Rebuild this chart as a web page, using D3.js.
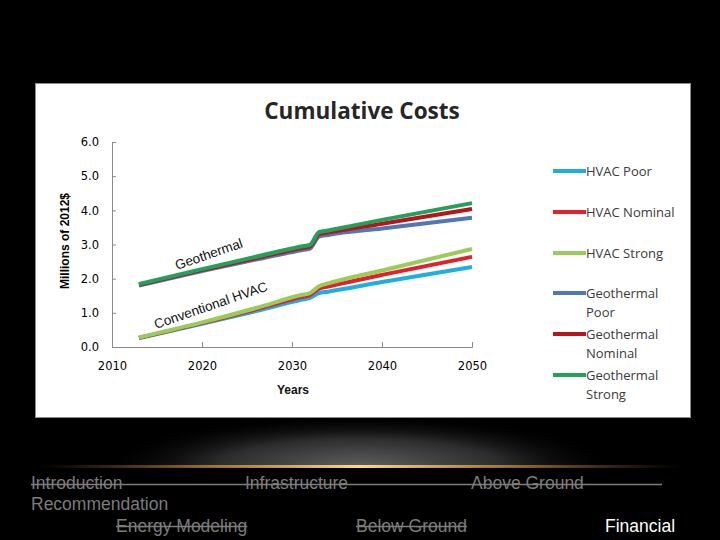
<!DOCTYPE html>
<html>
<head>
<meta charset="utf-8">
<script src="https://cdn.jsdelivr.net/npm/d3@7"></script>
<style>
  html, body { margin: 0; padding: 0; background: #000; }
  svg { display: block; }
</style>
</head>
<body>
<div id="slide"></div>
<script>
"use strict";

// chart data
const years = [2013, 2020, 2026, 2031, 2032, 2033, 2034, 2040, 2050];

const hvacPoor       = [0.26, 0.68, 1.05, 1.38, 1.44, 1.58, 1.62, 1.90, 2.34];
const hvacNominal    = [0.27, 0.70, 1.10, 1.46, 1.52, 1.71, 1.77, 2.11, 2.64];
const hvacStrong     = [0.28, 0.72, 1.14, 1.52, 1.58, 1.78, 1.86, 2.24, 2.87];
const geoPoor        = [1.80, 2.22, 2.56, 2.83, 2.88, 3.23, 3.28, 3.47, 3.78];
const geoNominal     = [1.82, 2.25, 2.60, 2.89, 2.94, 3.30, 3.35, 3.61, 4.04];
const geoStrong      = [1.84, 2.28, 2.64, 2.94, 2.99, 3.36, 3.41, 3.72, 4.21];

const seriesNames  = ["HVAC Poor", "HVAC Nominal", "HVAC Strong", "Geothermal Poor", "Geothermal Nominal", "Geothermal Strong"];
const seriesValues = [hvacPoor, hvacNominal, hvacStrong, geoPoor, geoNominal, geoStrong];
const seriesColors = ["#1eaee4", "#e3212a", "#98cd5a", "#5079b3", "#b8141c", "#21a15a"];

const yTicks = [0, 1, 2, 3, 4, 5, 6];
const xTicks = [2010, 2020, 2030, 2040, 2050];

const navRow1 = ["Introduction", "Infrastructure", "Above Ground"];
const navRow3 = ["Energy Modeling", "Below Ground"];

const width = 720, height = 540;

const svg = d3.select("#slide").append("svg")
    .attr("width", width)
    .attr("height", height);

const defs = svg.append("defs");

const glow = defs.append("radialGradient")
    .attr("id", "glow")
    .attr("cx", "0.5").attr("cy", "0.5").attr("r", "0.5");
glow.append("stop").attr("offset", "0%").attr("stop-color", "#606060").attr("stop-opacity", 1);
glow.append("stop").attr("offset", "55%").attr("stop-color", "#2c2c2c").attr("stop-opacity", 1);
glow.append("stop").attr("offset", "100%").attr("stop-color", "#000").attr("stop-opacity", 0);

const gold = defs.append("linearGradient")
    .attr("id", "gold")
    .attr("x1", "0").attr("y1", "0").attr("x2", "1").attr("y2", "0");
gold.append("stop").attr("offset", "0%").attr("stop-color", "#a86a20").attr("stop-opacity", 0);
gold.append("stop").attr("offset", "25%").attr("stop-color", "#c88a3a").attr("stop-opacity", 0.7);
gold.append("stop").attr("offset", "50%").attr("stop-color", "#ffd890").attr("stop-opacity", 1);
gold.append("stop").attr("offset", "75%").attr("stop-color", "#c88a3a").attr("stop-opacity", 0.7);
gold.append("stop").attr("offset", "100%").attr("stop-color", "#a86a20").attr("stop-opacity", 0);

defs.append("clipPath").attr("id", "aboveLine")
    .append("rect").attr("x", 0).attr("y", 400).attr("width", width).attr("height", 67);

svg.append("rect").attr("width", width).attr("height", height).attr("fill", "#000");

// glow below the picture
svg.append("ellipse")
    .attr("clip-path", "url(#aboveLine)")
    .attr("cx", 360).attr("cy", 467)
    .attr("rx", 260).attr("ry", 52)
    .attr("fill", "url(#glow)");
svg.append("rect")
    .attr("x", 40).attr("y", 465)
    .attr("width", 640).attr("height", 3)
    .attr("fill", "url(#gold)");

// chart picture
svg.append("rect")
    .attr("x", 35.5).attr("y", 83.5)
    .attr("width", 655).attr("height", 334)
    .attr("fill", "#fff")
    .attr("stroke", "#8c8c8c");

svg.append("text")
    .attr("x", 362).attr("y", 119)
    .attr("text-anchor", "middle")
    .attr("font-family", "Open Sans")
    .attr("font-weight", "bold")
    .attr("font-size", 22.5)
    .attr("fill", "#262626")
    .text("Cumulative Costs");

const x = d3.scaleLinear().domain([2010, 2050]).range([112, 472]);
const y = d3.scaleLinear().domain([0, 6]).range([347, 142]);

const yAxis = svg.append("g")
    .attr("transform", "translate(112,0)")
    .call(d3.axisLeft(y).tickValues(yTicks).tickSize(-4).tickPadding(13)
        .tickFormat(d3.format(".1f")));

const xAxis = svg.append("g")
    .attr("transform", "translate(0,347)")
    .call(d3.axisBottom(x).tickValues(xTicks).tickSize(-5).tickPadding(15)
        .tickFormat(d3.format("d")));

[yAxis, xAxis].forEach(g => {
    g.select(".domain").attr("stroke", "#8a8a8a");
    g.selectAll(".tick line").attr("stroke", "#8a8a8a");
    g.selectAll(".tick text")
        .attr("font-family", "DejaVu Sans")
        .attr("font-size", 11.5)
        .attr("fill", "#000");
});

svg.append("text")
    .attr("transform", "translate(69,241) rotate(-90)")
    .attr("text-anchor", "middle")
    .attr("font-family", "Liberation Sans")
    .attr("font-weight", "bold")
    .attr("font-size", 12)
    .attr("fill", "#000")
    .text("Millions of 2012$");

svg.append("text")
    .attr("x", 293).attr("y", 394)
    .attr("text-anchor", "middle")
    .attr("font-family", "Liberation Sans")
    .attr("font-weight", "bold")
    .attr("font-size", 12)
    .attr("fill", "#111")
    .text("Years");

const line = d3.line()
    .x((d, i) => x(years[i]))
    .y(d => y(d))
    .curve(d3.curveMonotoneX);

svg.append("g")
    .selectAll("path")
    .data(seriesValues)
    .join("path")
        .attr("d", d => line(d))
        .attr("fill", "none")
        .attr("stroke", (d, i) => seriesColors[i])
        .attr("stroke-width", 4)
        .attr("stroke-linejoin", "round");

// annotations on the lines
svg.append("text")
    .attr("transform", "translate(177,270) rotate(-19)")
    .attr("font-family", "Liberation Sans")
    .attr("font-size", 13.5)
    .attr("fill", "#111")
    .text("Geothermal");

svg.append("text")
    .attr("transform", "translate(156,329) rotate(-19)")
    .attr("font-family", "Liberation Sans")
    .attr("font-size", 13.5)
    .attr("fill", "#111")
    .text("Conventional HVAC");

// legend
const legendY = [171, 212, 253, 293, 334, 375];
const legend = svg.append("g")
    .selectAll("g")
    .data(seriesNames)
    .join("g")
        .attr("transform", (d, i) => `translate(553,${legendY[i]})`);

legend.append("line")
    .attr("x1", 0).attr("x2", 33)
    .attr("stroke", (d, i) => seriesColors[i])
    .attr("stroke-width", 4);

legend.append("text")
    .attr("font-family", "Open Sans")
    .attr("font-size", 13)
    .attr("fill", "#3a3a3a")
    .selectAll("tspan")
    .data(d => d.startsWith("Geothermal") ? ["Geothermal", d.split(" ")[1]] : [d])
    .join("tspan")
        .attr("x", 33)
        .attr("y", (d, i) => 4.5 + i * 19)
        .text(d => d);

// navigation
const navFont = { family: "Liberation Sans", size: 17.5 };
const nav1X = [31, 245, 471];
svg.append("g")
    .selectAll("text")
    .data(navRow1)
    .join("text")
        .attr("x", (d, i) => nav1X[i]).attr("y", 489)
        .attr("font-family", navFont.family)
        .attr("font-size", navFont.size)
        .attr("fill", "#7c7c7c")
        .text(d => d);
svg.append("line")
    .attr("x1", 31).attr("x2", 662)
    .attr("y1", 484.5).attr("y2", 484.5)
    .attr("stroke", "#7c7c7c").attr("stroke-width", 1.5);

svg.append("text")
    .attr("x", 31).attr("y", 510)
    .attr("font-family", navFont.family)
    .attr("font-size", navFont.size)
    .attr("fill", "#7c7c7c")
    .text("Recommendation");

const nav3X = [116, 356];
const nav3 = svg.append("g")
    .selectAll("text")
    .data(navRow3)
    .join("text")
        .attr("x", (d, i) => nav3X[i]).attr("y", 532)
        .attr("font-family", navFont.family)
        .attr("font-size", navFont.size)
        .attr("fill", "#7c7c7c")
        .text(d => d);
nav3.each(function (d, i) {
    const w = this.getComputedTextLength();
    svg.append("line")
        .attr("x1", nav3X[i]).attr("x2", nav3X[i] + w)
        .attr("y1", 526.5).attr("y2", 526.5)
        .attr("stroke", "#7c7c7c").attr("stroke-width", 1.5);
});

svg.append("text")
    .attr("x", 605).attr("y", 532)
    .attr("font-family", navFont.family)
    .attr("font-size", navFont.size)
    .attr("fill", "#fff")
    .text("Financial");
</script>
</body>
</html>
